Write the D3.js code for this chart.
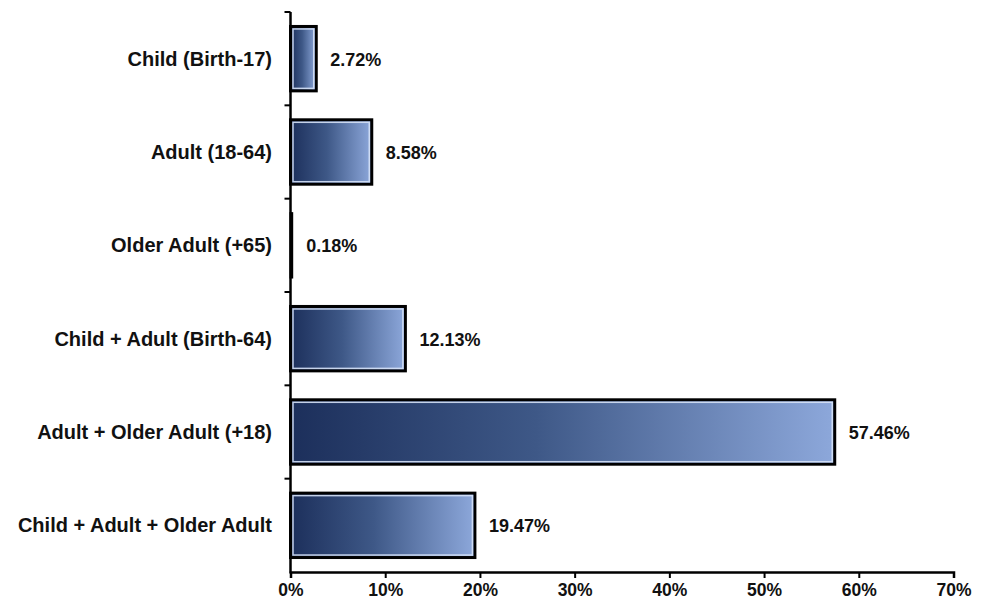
<!DOCTYPE html>
<html><head><meta charset="utf-8">
<script src="https://cdn.jsdelivr.net/npm/d3@7"></script>
<style>
html,body{margin:0;padding:0;background:#fff;}
svg text{font-family:"Liberation Sans",Arial,sans-serif;font-weight:bold;fill:#111;}
</style></head>
<body><svg id="chart" width="982" height="602"></svg>
<script>
const categories = ["Child (Birth-17)","Adult (18-64)","Older Adult (+65)","Child + Adult (Birth-64)","Adult + Older Adult (+18)","Child + Adult + Older Adult"];
const values = [2.72, 8.58, 0.18, 12.13, 57.46, 19.47];
const valueLabels = ["2.72%","8.58%","0.18%","12.13%","57.46%","19.47%"];
const xTicks = [0,10,20,30,40,50,60,70];

const svg = d3.select("#chart");
const x = d3.scaleLinear().domain([0,70]).range([290.5,953.5]);
const y = d3.scaleBand().domain(categories).range([12,572]).paddingInner(0.31).paddingOuter(0.155);

const defs = svg.append("defs");
const grad = defs.append("linearGradient").attr("id","barGrad")
  .attr("x1","0%").attr("x2","100%").attr("y1","0%").attr("y2","0%");
grad.append("stop").attr("offset","0%").attr("stop-color","#1c2f5b");
grad.append("stop").attr("offset","45%").attr("stop-color","#3e5887");
grad.append("stop").attr("offset","100%").attr("stop-color","#8da8db");

const g = svg.append("g");
const bars = g.selectAll(".bar").data(categories).enter().append("g");
bars.append("rect")
  .attr("x", x(0))
  .attr("y", d => y(d))
  .attr("width", (d,i) => x(values[i]) - x(0))
  .attr("height", y.bandwidth())
  .attr("fill","url(#barGrad)")
  .attr("stroke","#000").attr("stroke-width",(d,i) => (x(values[i]) - x(0)) < 4 ? 2 : 3);
bars.append("rect")
  .attr("x", x(0)+2.5)
  .attr("y", d => y(d)+2.5)
  .attr("width", (d,i) => Math.max(0, x(values[i]) - x(0) - 5))
  .attr("height", y.bandwidth()-5)
  .attr("fill","none")
  .attr("stroke","#d6e2f7").attr("stroke-width",1.5)
  .attr("stroke-opacity",(d,i) => (x(values[i]) - x(0)) < 6 ? 0 : 0.9);

// value labels
g.selectAll(".val").data(categories).enter().append("text")
  .attr("x", (d,i) => x(values[i]) + 14)
  .attr("y", d => y(d) + y.bandwidth()/2 + 7)
  .attr("font-size", 18)
  .text((d,i) => valueLabels[i]);

// y axis
const yTop = y.range()[0], yBot = y.range()[1];
g.append("line").attr("x1",x(0)).attr("x2",x(0)).attr("y1",yTop).attr("y2",yBot+1.5)
  .attr("stroke","#000").attr("stroke-width",2.5);
const step = y.step();
for (let i = 0; i < categories.length; i++) {
  g.append("line").attr("x1",x(0)-6).attr("x2",x(0))
    .attr("y1", yTop + i*step).attr("y2", yTop + i*step)
    .attr("stroke","#000").attr("stroke-width",2);
}
g.selectAll(".cat").data(categories).enter().append("text")
  .attr("x", 272)
  .attr("y", d => y(d) + y.bandwidth()/2 + 7)
  .attr("text-anchor","end")
  .attr("font-size", 20)
  .text(d => d);

// x axis
const xAxis = d3.axisBottom(x).tickValues(xTicks).tickFormat(d => d + "%").tickSize(6).tickPadding(6);
const ax = g.append("g").attr("transform",`translate(0,${yBot})`).call(xAxis);
ax.select(".domain").attr("stroke","#000").attr("stroke-width",2.5);
ax.selectAll(".tick line").attr("stroke","#000").attr("stroke-width",2);
ax.selectAll(".tick text").attr("font-size",17.5).attr("fill","#111")
  .style("font-family","'Liberation Sans',Arial,sans-serif").style("font-weight","bold");
</script></body></html>
